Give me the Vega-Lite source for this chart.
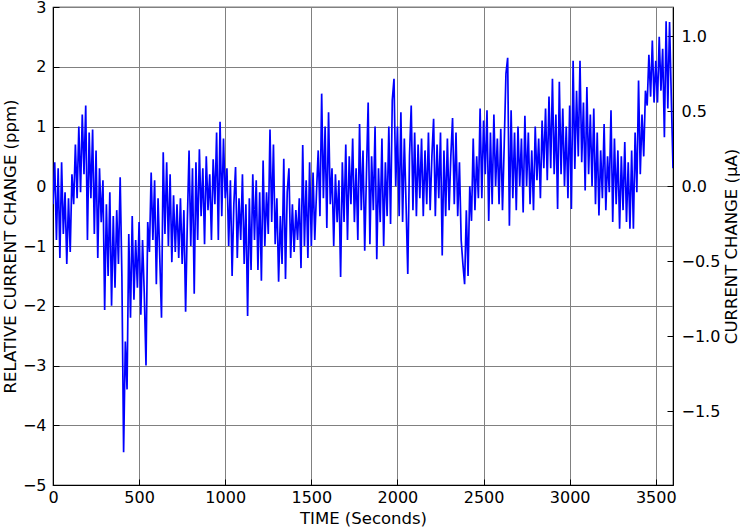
{
  "$schema": "https://vega.github.io/schema/vega-lite/v6.json",
  "width": 620,
  "height": 478,
  "autosize": {"type": "none"},
  "padding": {"left": 53, "top": 7, "right": 67, "bottom": 44},
  "background": "white",
  "config": {
    "view": {"stroke": "black", "strokeWidth": 1.2},
    "axis": {
      "labelFont": "DejaVu Sans", "titleFont": "DejaVu Sans",
      "labelFontSize": 16, "titleFontSize": 16.5, "titleFontWeight": "normal",
      "labelColor": "black", "titleColor": "black",
      "domainColor": "black", "tickColor": "black",
      "gridColor": "#808080", "gridOpacity": 1, "gridWidth": 1
    }
  },
  "data": {"values": [
    {"t":0,"v":-0.3},{"t":10,"v":0.4},{"t":20,"v":-0.9},{"t":30,"v":0.3},{"t":40,"v":-1.2},{"t":50,"v":0.4},
    {"t":60,"v":-0.8},{"t":70,"v":-0.1},{"t":80,"v":-1.3},{"t":90,"v":-0.2},{"t":100,"v":-1.1},
    {"t":110,"v":0.2},{"t":120,"v":-0.3},{"t":130,"v":0.7},{"t":140,"v":-0.2},
    {"t":150,"v":1.0},{"t":160,"v":-0.1},{"t":170,"v":1.2},{"t":180,"v":0.2},{"t":190,"v":1.35},
    {"t":200,"v":-0.9},{"t":210,"v":0.9},{"t":220,"v":-0.2},{"t":230,"v":0.95},{"t":240,"v":-0.8},
    {"t":250,"v":0.6},{"t":260,"v":-1.2},{"t":270,"v":0.3},{"t":280,"v":-0.6},{"t":290,"v":0.1},
    {"t":300,"v":-2.07},{"t":310,"v":-0.3},{"t":320,"v":-1.5},{"t":330,"v":-0.1},{"t":340,"v":-2.0},
    {"t":350,"v":-0.5},{"t":360,"v":-1.7},{"t":370,"v":-0.4},{"t":380,"v":-1.3},{"t":390,"v":0.15},
    {"t":400,"v":-1.5},{"t":410,"v":-4.45},{"t":420,"v":-2.6},{"t":430,"v":-3.4},{"t":440,"v":-0.8},
    {"t":450,"v":-2.2},{"t":460,"v":-0.5},{"t":470,"v":-1.9},{"t":480,"v":-0.9},{"t":490,"v":-1.7},
    {"t":500,"v":-0.6},{"t":510,"v":-2.15},{"t":520,"v":-0.9},{"t":530,"v":-1.8},{"t":540,"v":-3.0},{"t":550,"v":-0.6},
    {"t":560,"v":-1.1},{"t":570,"v":0.23},{"t":580,"v":-0.9},{"t":590,"v":0.1},{"t":600,"v":-1.64},
    {"t":610,"v":-0.2},{"t":620,"v":-1.2},{"t":630,"v":-2.2},{"t":640,"v":0.57},{"t":650,"v":-0.8},{"t":660,"v":0.4},{"t":670,"v":-1.0},{"t":680,"v":0.2},
    {"t":690,"v":-1.27},{"t":700,"v":-0.15},{"t":710,"v":-1.1},{"t":720,"v":-0.3},{"t":730,"v":-1.2},
    {"t":740,"v":-0.2},{"t":750,"v":-1.3},{"t":760,"v":-0.4},{"t":770,"v":-2.1},{"t":780,"v":-0.6},
    {"t":790,"v":0.6},{"t":800,"v":-1.0},{"t":810,"v":0.3},{"t":820,"v":-1.8},{"t":830,"v":0.4},{"t":840,"v":-0.9},
    {"t":850,"v":0.62},{"t":860,"v":-0.5},{"t":870,"v":0.3},{"t":880,"v":-0.97},{"t":890,"v":0.5},{"t":900,"v":-0.4},{"t":910,"v":0.2},{"t":920,"v":-0.9},{"t":930,"v":0.45},{"t":940,"v":-0.3},
    {"t":950,"v":0.9},{"t":960,"v":-0.9},{"t":970,"v":1.08},{"t":980,"v":-0.5},{"t":990,"v":0.8},{"t":1000,"v":-0.2},
    {"t":1010,"v":0.3},{"t":1020,"v":-1.0},{"t":1030,"v":0.1},{"t":1040,"v":-1.5},{"t":1050,"v":-0.3},{"t":1060,"v":0.32},{"t":1070,"v":-1.2},{"t":1080,"v":-0.2},{"t":1090,"v":-0.9},
    {"t":1100,"v":0.2},{"t":1110,"v":-1.3},{"t":1120,"v":-0.3},{"t":1130,"v":-2.17},{"t":1140,"v":-0.2},{"t":1150,"v":-1.4},
    {"t":1160,"v":0.2},{"t":1170,"v":-0.9},{"t":1180,"v":0.1},{"t":1190,"v":-1.4},{"t":1200,"v":-0.1},
    {"t":1210,"v":-1.58},{"t":1220,"v":0.43},{"t":1230,"v":-1.0},{"t":1240,"v":-0.1},{"t":1250,"v":-0.8},
    {"t":1260,"v":0.95},{"t":1270,"v":-0.6},{"t":1280,"v":0.7},{"t":1290,"v":-0.97},
    {"t":1300,"v":-0.2},{"t":1310,"v":-1.6},{"t":1320,"v":-0.5},{"t":1330,"v":-1.3},
    {"t":1340,"v":0.46},{"t":1350,"v":-1.55},{"t":1360,"v":-0.1},{"t":1370,"v":0.3},{"t":1380,"v":-1.2},
    {"t":1390,"v":-0.3},{"t":1400,"v":-1.1},{"t":1410,"v":-0.4},{"t":1420,"v":-0.9},{"t":1430,"v":-0.2},
    {"t":1440,"v":-1.37},{"t":1450,"v":0.69},{"t":1460,"v":-1.0},{"t":1470,"v":0.1},{"t":1480,"v":-1.2},{"t":1490,"v":0.4},{"t":1500,"v":-1.0},
    {"t":1510,"v":0.23},{"t":1520,"v":-0.9},{"t":1530,"v":-0.1},
    {"t":1540,"v":0.6},{"t":1550,"v":-0.5},{"t":1560,"v":1.55},{"t":1570,"v":-0.2},{"t":1580,"v":1.0},{"t":1590,"v":-0.7},{"t":1600,"v":1.24},
    {"t":1610,"v":-0.3},{"t":1620,"v":0.3},{"t":1630,"v":-1.0},{"t":1640,"v":0.2},{"t":1650,"v":-0.6},{"t":1660,"v":0.1},{"t":1670,"v":-1.52},
    {"t":1680,"v":0.4},{"t":1690,"v":-0.6},{"t":1700,"v":0.7},{"t":1710,"v":-0.9},{"t":1720,"v":0.5},{"t":1730,"v":-0.3},{"t":1740,"v":0.8},{"t":1750,"v":-0.6},{"t":1760,"v":0.3},{"t":1770,"v":-0.9},{"t":1780,"v":1.04},{"t":1790,"v":-0.4},{"t":1800,"v":0.6},
    {"t":1810,"v":-1.08},{"t":1820,"v":0.2},
    {"t":1830,"v":1.4},{"t":1840,"v":-0.97},{"t":1850,"v":0.5},{"t":1860,"v":-0.4},
    {"t":1870,"v":1.0},{"t":1880,"v":-1.22},{"t":1890,"v":0.3},{"t":1900,"v":-0.6},{"t":1910,"v":0.8},{"t":1920,"v":-1.0},{"t":1930,"v":0.4},
    {"t":1940,"v":-0.5},{"t":1950,"v":1.0},{"t":1960,"v":-0.63},{"t":1970,"v":1.44},{"t":1980,"v":1.8},{"t":1990,"v":0.0},{"t":2000,"v":1.0},
    {"t":2010,"v":-0.5},{"t":2020,"v":1.24},{"t":2030,"v":-0.6},{"t":2040,"v":0.8},{"t":2050,"v":-0.3},{"t":2060,"v":-1.47},
    {"t":2070,"v":0.5},{"t":2080,"v":1.35},{"t":2090,"v":-0.4},{"t":2100,"v":0.9},{"t":2110,"v":-0.5},{"t":2120,"v":0.7},{"t":2130,"v":-0.2},
    {"t":2140,"v":0.8},{"t":2150,"v":-0.5},{"t":2160,"v":0.6},{"t":2170,"v":-0.3},{"t":2180,"v":0.9},{"t":2190,"v":-0.4},{"t":2200,"v":0.5},{"t":2210,"v":1.13},{"t":2220,"v":-0.5},{"t":2230,"v":0.7},{"t":2240,"v":-0.2},{"t":2250,"v":0.9},
    {"t":2260,"v":-1.16},{"t":2270,"v":0.6},{"t":2280,"v":-0.5},{"t":2290,"v":0.8},{"t":2300,"v":-0.4},{"t":2310,"v":0.5},{"t":2320,"v":1.14},
    {"t":2330,"v":-0.3},{"t":2340,"v":0.9},{"t":2350,"v":-0.5},{"t":2360,"v":0.4},
    {"t":2370,"v":-0.9},{"t":2380,"v":-1.3},{"t":2390,"v":-1.64},{"t":2400,"v":-0.4},{"t":2410,"v":-1.5},{"t":2420,"v":0.0},
    {"t":2430,"v":-0.58},{"t":2440,"v":0.8},{"t":2450,"v":-0.4},{"t":2460,"v":0.5},{"t":2470,"v":-0.2},
    {"t":2480,"v":1.3},{"t":2490,"v":-0.2},{"t":2500,"v":1.1},{"t":2510,"v":0.2},
    {"t":2520,"v":1.27},{"t":2530,"v":-0.58},{"t":2540,"v":0.9},{"t":2550,"v":-0.3},{"t":2560,"v":1.2},{"t":2570,"v":0.0},{"t":2580,"v":0.8},
    {"t":2590,"v":-0.3},{"t":2600,"v":0.96},{"t":2610,"v":-0.4},{"t":2620,"v":0.7},
    {"t":2630,"v":1.88},{"t":2640,"v":2.15},{"t":2650,"v":-0.66},
    {"t":2660,"v":1.27},{"t":2670,"v":-0.2},{"t":2680,"v":0.9},{"t":2690,"v":-0.4},{"t":2700,"v":1.0},{"t":2710,"v":0.0},{"t":2720,"v":0.8},
    {"t":2730,"v":-0.44},{"t":2740,"v":1.18},{"t":2750,"v":0.0},{"t":2760,"v":0.9},{"t":2770,"v":-0.3},{"t":2780,"v":0.6},{"t":2790,"v":-0.4},{"t":2800,"v":1.0},{"t":2810,"v":0.1},{"t":2820,"v":0.8},{"t":2830,"v":-0.2},{"t":2840,"v":1.1},{"t":2850,"v":0.3},
    {"t":2860,"v":1.3},{"t":2870,"v":0.1},{"t":2880,"v":1.5},{"t":2890,"v":0.3},{"t":2900,"v":1.8},{"t":2910,"v":0.2},{"t":2920,"v":1.2},
    {"t":2930,"v":-0.38},{"t":2940,"v":1.75},{"t":2950,"v":0.2},{"t":2960,"v":1.3},{"t":2970,"v":0.0},{"t":2980,"v":1.0},{"t":2990,"v":-0.2},
    {"t":3000,"v":1.35},{"t":3010,"v":-0.38},{"t":3020,"v":2.1},
    {"t":3030,"v":0.29},{"t":3040,"v":1.6},{"t":3050,"v":0.5},{"t":3060,"v":2.1},{"t":3070,"v":0.4},{"t":3080,"v":1.4},
    {"t":3090,"v":-0.07},{"t":3100,"v":1.66},{"t":3110,"v":0.2},{"t":3120,"v":1.2},{"t":3130,"v":0.0},{"t":3140,"v":1.3},
    {"t":3150,"v":-0.3},{"t":3160,"v":0.9},{"t":3170,"v":-0.49},{"t":3180,"v":0.6},{"t":3190,"v":-0.2},{"t":3200,"v":1.04},{"t":3210,"v":-0.4},{"t":3220,"v":0.5},{"t":3230,"v":-0.1},
    {"t":3240,"v":1.27},{"t":3250,"v":-0.6},{"t":3260,"v":0.8},{"t":3270,"v":-0.3},{"t":3280,"v":0.6},{"t":3290,"v":-0.71},
    {"t":3300,"v":0.5},{"t":3310,"v":-0.4},{"t":3320,"v":0.74},{"t":3330,"v":-0.6},{"t":3340,"v":0.4},{"t":3350,"v":-0.71},{"t":3360,"v":0.6},{"t":3370,"v":-0.71},
    {"t":3380,"v":0.9},{"t":3390,"v":-0.1},{"t":3400,"v":1.77},{"t":3410,"v":0.2},{"t":3420,"v":1.2},{"t":3430,"v":0.5},{"t":3440,"v":1.6},
    {"t":3450,"v":1.35},{"t":3460,"v":2.2},{"t":3470,"v":1.5},{"t":3480,"v":2.44},{"t":3490,"v":1.4},{"t":3500,"v":2.1},
    {"t":3510,"v":1.4},{"t":3520,"v":2.5},{"t":3530,"v":1.6},{"t":3540,"v":2.3},{"t":3550,"v":0.82},{"t":3560,"v":2.76},
    {"t":3570,"v":1.3},{"t":3580,"v":2.75},{"t":3590,"v":1.5},{"t":3600,"v":0.3}
  ]},
  "layer": [
    {
      "mark": {"type": "line", "color": "#0000ff", "strokeWidth": 1.7, "clip": true},
      "encoding": {
        "x": {"field": "t", "type": "quantitative",
              "scale": {"domain": [0, 3600], "nice": false, "zero": false},
              "axis": {"title": "TIME (Seconds)", "values": [0,500,1000,1500,2000,2500,3000,3500], "format": "d",
                       "tickSize": -6, "labelPadding": 10, "titlePadding": 5, "grid": true, "labelFlush": false}},
        "y": {"field": "v", "type": "quantitative",
              "scale": {"domain": [-5, 3], "nice": false, "zero": false},
              "axis": {"title": "RELATIVE CURRENT CHANGE (ppm)", "orient": "left",
                       "values": [-5,-4,-3,-2,-1,0,1,2,3], "format": "d",
                       "tickSize": -6, "labelPadding": 13, "titlePadding": 4, "grid": true, "labelFlush": false}}
      }
    },
    {
      "mark": {"type": "point", "opacity": 0},
      "encoding": {
        "y": {"field": "v", "type": "quantitative",
              "scale": {"domain": [-1.992, 1.195], "nice": false, "zero": false},
              "axis": {"title": "CURRENT CHANGE (μA)", "orient": "right",
                       "values": [-1.5,-1,-0.5,0,0.5,1], "format": ".1f",
                       "tickSize": -6, "labelPadding": 14, "titlePadding": 20, "titleAngle": 270,
                       "grid": false, "labelFlush": false}}
      }
    }
  ],
  "resolve": {"scale": {"y": "independent"}, "axis": {"y": "independent"}}
}
